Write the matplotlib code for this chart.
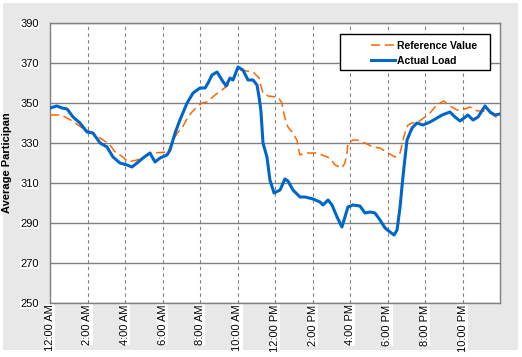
import matplotlib
matplotlib.use("Agg")
import matplotlib.pyplot as plt
from matplotlib.patches import Rectangle

# hours since midnight -> average load
actual_hours = [0.0, 0.37, 0.64, 0.91, 1.23, 1.6, 1.97, 2.29, 2.67, 3.04, 3.36, 3.73,
                4.11, 4.37, 4.64, 4.96, 5.33, 5.6, 5.87, 6.24, 6.4, 6.67, 6.93, 7.31,
                7.63, 8.0, 8.27, 8.43, 8.64, 8.91, 9.17, 9.39, 9.6, 9.76, 10.03, 10.29,
                10.56, 10.83, 11.04, 11.15, 11.25, 11.36, 11.57, 11.73, 11.95, 12.27,
                12.53, 12.69, 12.96, 13.33, 13.6, 14.03, 14.4, 14.56, 14.83, 15.04,
                15.31, 15.57, 15.73, 15.89, 16.16, 16.53, 16.8, 17.07, 17.33, 17.6,
                17.87, 18.13, 18.35, 18.51, 18.67, 18.77, 18.88, 19.04, 19.31, 19.57,
                19.89, 20.27, 20.64, 20.91, 21.33, 21.6, 21.87, 22.29, 22.56, 22.83,
                23.2, 23.47, 23.73, 24.0]
actual_load = [347.5, 348.5, 347.5, 347, 343, 340, 335.5, 335, 330, 328, 323, 320,
               319, 318, 320, 322.5, 325, 320.5, 322.5, 324, 326.5, 335, 341.5, 350,
               355, 357.5, 357.5, 360, 364, 365.5, 361.5, 358.5, 362.5, 361.5, 368, 366.5,
               361.5, 361.5, 359, 353, 346, 330, 323, 311.5, 305, 306.5,
               312, 311, 306.5, 303, 303, 302, 300.5, 299, 301.5, 299,
               293, 288, 293, 298, 299, 298.5, 295, 295.5, 295, 291.5,
               287.5, 285.5, 284, 286.5, 298, 308, 318, 331.5, 337.5, 340,
               339, 340.5, 342.5, 344, 345.5, 343, 341, 344, 341.5, 343,
               348.5, 345.5, 344, 344.5]

ref_hours = [0.0, 0.6, 1.2, 1.8, 2.2, 2.4, 2.84, 3.2, 3.47, 3.89, 4.16, 4.64, 5.44,
             6.29, 6.56, 6.83, 7.04, 7.36, 7.57, 7.84, 8.11, 8.37, 8.53, 8.69, 8.8,
             9.17, 9.5, 9.8, 10.13, 10.83, 11.15, 11.2, 11.36, 11.63, 12.16, 12.37,
             12.43, 12.53, 12.69, 12.91, 13.17, 13.23, 13.33, 13.6, 14.24, 14.51,
             14.93, 15.2, 15.57, 15.73, 15.84, 15.89, 16.16, 16.37, 16.8, 17.23,
             17.6, 18.03, 18.4, 18.67, 18.83, 18.93, 19.09, 19.31, 19.63, 20.0,
             20.27, 20.53, 20.8, 21.0, 21.33, 21.71, 22.0, 22.4, 22.8, 23.1, 23.47,
             23.79, 24.0]
ref_value = [344, 344, 341, 337, 335.5, 334, 331.5, 329, 325.5, 323, 320.5, 321.5, 325,
             325.5, 331.5, 335.5, 337.5, 343, 345.5, 348, 350, 350.5, 352, 353, 354,
             356.5, 359, 363, 366.5, 365.5, 362.5, 360, 355, 353.5, 353, 350,
             346.5, 342.5, 338, 335.5, 331.5, 328, 324, 325, 325, 324,
             322.5, 319, 317.5, 320, 325, 330, 331.5, 331.5, 330, 328,
             327.5, 325, 323, 325, 331.5, 335, 339, 340, 340.5, 343,
             345, 348, 350, 351, 348.5, 346.5, 346.5, 348, 346, 346, 345,
             343, 344]

tick_hours = [0, 2, 4, 6, 8, 10, 12, 14, 16, 18, 20, 22]
tick_labels = ["12:00 AM", "2:00 AM", "4:00 AM", "6:00 AM", "8:00 AM", "10:00 AM",
               "12:00 PM", "2:00 PM", "4:00 PM", "6:00 PM", "8:00 PM", "10:00 PM"]
y_ticks = [250, 270, 290, 310, 330, 350, 370, 390]

plt.rcParams["font.family"] = ["Liberation Sans", "DejaVu Sans"]

fig = plt.figure(figsize=(5.22, 3.57), dpi=100, facecolor="white")
fig.patches.append(Rectangle((3 / 522, 7 / 357), 515 / 522, 347 / 357,
                             transform=fig.transFigure, facecolor="#E8E8E8",
                             edgecolor="none", zorder=-10))
ax = fig.add_axes([50 / 522, 54 / 357, 450 / 522, 280 / 357])
ax.set_facecolor("white")

ax.plot(ref_hours, ref_value, color="#FF6600", lw=1.1, dashes=(6, 3),
        label="Reference Value", zorder=3)
ax.plot(actual_hours, actual_load, color="#0066CC", lw=2.2,
        label="Actual Load", zorder=4)

ax.set_xlim(0, 24)
ax.set_ylim(250, 390)
ax.set_yticks(y_ticks)
ax.set_xticks(tick_hours)
ax.set_xticklabels(tick_labels, rotation=90, fontsize=8, va="top", ha="center")
ax.tick_params(axis="both", length=0, labelsize=8)
ax.tick_params(axis="y", pad=8)
ax.tick_params(axis="x", pad=1)
for lbl in ax.get_xticklabels() + ax.get_yticklabels():
    lbl.set_bbox(dict(facecolor="white", edgecolor="none", pad=0.3))

ax.yaxis.grid(True, color="#808080", lw=1, ls="-")
ax.xaxis.grid(True, color="#808080", lw=0.8, dashes=(3, 3))
ax.set_axisbelow(True)
for s in ax.spines.values():
    s.set_color("#808080")
    s.set_linewidth(1)

ax.set_ylabel("Average Participan", fontsize=8, fontweight="bold", labelpad=6)

# legend box drawn separately so it can be wider than its contents
ax.add_patch(Rectangle((0.644, 0.832), 0.334, 0.129, transform=ax.transAxes,
                       facecolor="white", edgecolor="black", lw=1, zorder=5))
leg = ax.legend(loc="upper left", bbox_to_anchor=(0.695, 0.965), frameon=False,
                handlelength=2.3, borderpad=0.3, labelspacing=0.45, handletextpad=0.2,
                prop={"family": ["Liberation Sans Narrow", "Liberation Sans"],
                      "weight": "bold", "size": 7.5})
leg.set_zorder(6)

fig.savefig("out.png", dpi=100, facecolor=fig.get_facecolor())
